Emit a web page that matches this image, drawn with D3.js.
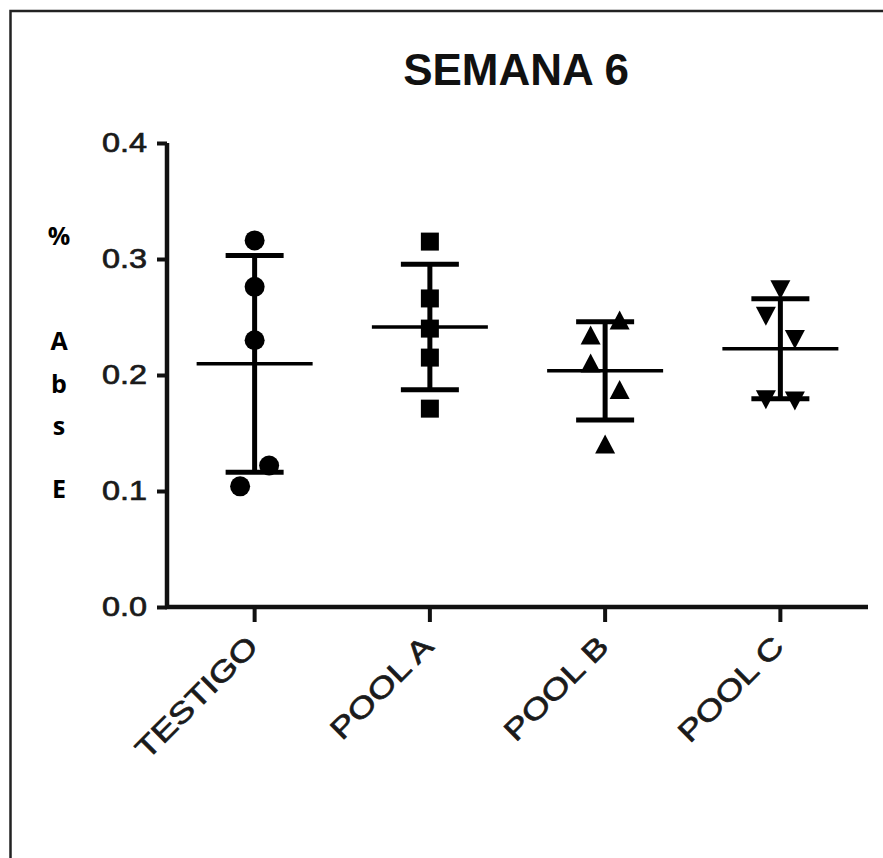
<!DOCTYPE html>
<html>
<head>
<meta charset="utf-8">
<script src="https://cdn.jsdelivr.net/npm/d3@7"></script>
<style>
  body { margin: 0; background: #fff; }
  svg { display: block; }
</style>
</head>
<body>
<div id="chart"></div>
<script>
// ~~~~~~~~~~~~~~~~ data ~~~~~~~~~~~~~~~~
var categories = ["TESTIGO", "POOL A", "POOL B", "POOL C"];
var testigo = [0.316, 0.276, 0.230, 0.122, 0.104];
var poolA   = [0.315, 0.266, 0.240, 0.215, 0.171];
var poolB   = [0.247, 0.234, 0.210, 0.187, 0.140];
var poolC   = [0.274, 0.251, 0.231, 0.179, 0.178];
// side-by-side slot of each point when symbols overlap (-1 left, 0 centre, 1 right)
var testigoSlot = [0, 0, 0, 1, -1];
var poolASlot   = [0, 0, 0, 0, 0];
var poolBSlot   = [1, -1, -1, 1, 0];
var poolCSlot   = [0, -1, 1, -1, 1];
var yTicks = [0.0, 0.1, 0.2, 0.3, 0.4];
var title = "SEMANA 6";
var yLabel = ["%", "A", "b", "s", "E"];

var groups = [testigo, poolA, poolB, poolC];
var slots = [testigoSlot, poolASlot, poolBSlot, poolCSlot];
var shapes = ["circle", "square", "triangle", "triangleDown"];

// ~~~~~~~~~~~~~~~~ svg ~~~~~~~~~~~~~~~~
var W = 883, H = 858;
var svg = d3.select("#chart").append("svg")
  .attr("width", W)
  .attr("height", H);

// frame (only top and left edge are visible)
svg.append("path")
  .attr("d", "M10.5,858 V11 H883")
  .attr("fill", "none")
  .attr("stroke", "#222")
  .attr("stroke-width", 2.5);

var x = d3.scaleBand().domain(categories).range([167, 868]).padding(0);
var y = d3.scaleLinear().domain([0, 0.4]).range([607, 143]);

// stretch text horizontally (reference font is wider than ours)
function stretch(sel, k) {
  sel.each(function() {
    var w = this.getComputedTextLength();
    this.setAttribute("textLength", w * k);
    this.setAttribute("lengthAdjust", "spacingAndGlyphs");
  });
}

// title
svg.append("text")
  .attr("x", 516)
  .attr("y", 85)
  .attr("text-anchor", "middle")
  .style("font-family", "'Liberation Sans', Arial, sans-serif")
  .style("font-weight", "bold")
  .style("font-size", "44px")
  .attr("fill", "#111")
  .text(title);

// y axis
var yAxis = svg.append("g")
  .attr("transform", "translate(167,0)")
  .call(d3.axisLeft(y).tickValues(yTicks).tickFormat(d3.format(".1f")).tickSize(10).tickSizeOuter(0).tickPadding(10));
yAxis.select(".domain").attr("stroke", "#111").attr("stroke-width", 4.5).attr("d", "M0,143 V609");
yAxis.selectAll(".tick line").attr("stroke", "#111").attr("stroke-width", 4);
yAxis.selectAll(".tick text")
  .style("font-family", "'Liberation Sans', Arial, sans-serif")
  .style("font-size", "27px")
  .attr("fill", "#1a1a1a")
  .attr("stroke", "#1a1a1a")
  .attr("stroke-width", 0.7)
  .call(stretch, 1.2);

// x axis
var xAxis = svg.append("g")
  .attr("transform", "translate(0,607)")
  .call(d3.axisBottom(x).tickSize(15).tickSizeOuter(0));
xAxis.select(".domain").attr("stroke", "#111").attr("stroke-width", 4.5).attr("d", "M165,0 H868");
xAxis.selectAll(".tick line").attr("stroke", "#111").attr("stroke-width", 4);
xAxis.selectAll(".tick text")
  .attr("transform", "translate(-2,34) rotate(-45)")
  .attr("x", 0)
  .attr("y", 0)
  .attr("dy", "0.35em")
  .attr("text-anchor", "end")
  .style("font-family", "'Liberation Sans', Arial, sans-serif")
  .style("font-size", "29px")
  .attr("fill", "#1a1a1a")
  .attr("stroke", "#1a1a1a")
  .attr("stroke-width", 0.7)
  .call(stretch, 1.25);

// y label, one letter per line
var yLabelY = [245, 350, 393, 435, 498];
svg.append("g").selectAll("text")
  .data(yLabel)
  .enter()
  .append("text")
  .attr("x", 59)
  .attr("y", function(d, i) { return yLabelY[i]; })
  .attr("text-anchor", "middle")
  .style("font-family", "'Open Sans', sans-serif")
  .style("font-weight", "bold")
  .style("font-size", "25px")
  .attr("fill", "#000")
  .text(function(d) { return d; });

// ~~~~~~~~~~~~~~~~ symbols ~~~~~~~~~~~~~~~~
function symbolPath(shape) {
  var p = d3.path();
  if (shape === "circle") {
    p.arc(0, 0, 10, 0, 2 * Math.PI);
  } else if (shape === "square") {
    p.rect(-9, -9, 18, 18);
  } else if (shape === "triangle") {
    p.moveTo(0, -10); p.lineTo(10, 9); p.lineTo(-10, 9); p.closePath();
  } else {
    p.moveTo(-10, -9); p.lineTo(10, -9); p.lineTo(0, 10); p.closePath();
  }
  return p.toString();
}

var dodge = 14.5;
var plot = svg.append("g");

categories.forEach(function(cat, gi) {
  var vals = groups[gi];
  var cx = x(cat) + x.bandwidth() / 2;
  var m = d3.mean(vals);
  var sd = d3.deviation(vals);

  var g = plot.append("g");

  // points
  g.selectAll("path.pt")
    .data(vals)
    .enter()
    .append("path")
    .attr("class", "pt")
    .attr("d", symbolPath(shapes[gi]))
    .attr("transform", function(d, i) {
      return "translate(" + (cx + slots[gi][i] * dodge) + "," + y(d) + ")";
    })
    .attr("fill", "#000");

  // sd whisker
  g.append("line")
    .attr("x1", cx).attr("x2", cx)
    .attr("y1", y(m + sd)).attr("y2", y(m - sd))
    .attr("stroke", "#000").attr("stroke-width", 5);
  g.selectAll("line.cap")
    .data([m + sd, m - sd])
    .enter()
    .append("line")
    .attr("class", "cap")
    .attr("x1", cx - 29).attr("x2", cx + 29)
    .attr("y1", function(d) { return y(d); })
    .attr("y2", function(d) { return y(d); })
    .attr("stroke", "#000").attr("stroke-width", 5);
  // mean
  g.append("line")
    .attr("x1", cx - 58).attr("x2", cx + 58)
    .attr("y1", y(m)).attr("y2", y(m))
    .attr("stroke", "#000").attr("stroke-width", 3.5);
});
</script>
</body>
</html>
